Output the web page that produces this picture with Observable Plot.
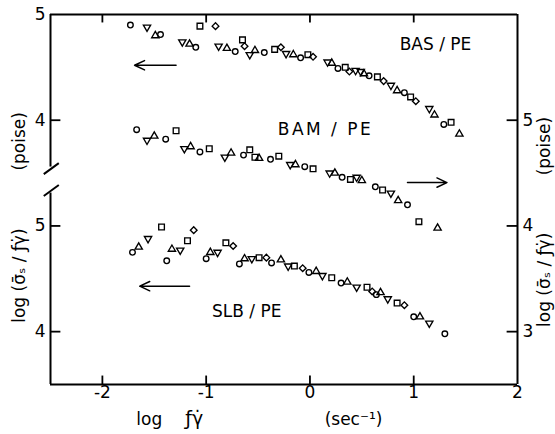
<!DOCTYPE html>
<html><head><meta charset="utf-8">
<script src="https://cdn.jsdelivr.net/npm/d3@7"></script>
<script src="https://cdn.jsdelivr.net/npm/@observablehq/plot@0.6"></script>
<style>body{margin:0;background:#fff;}</style>
</head><body><div id="chart"></div>
<script>
// ---- data ----
// x: log f·γ̇ (sec^-1); symbol codes: o circle, ^ triangle up, v triangle down, s square, d diamond
// BAS/PE : left upper axis (log poise)
const basX = [-1.73,-1.57,-1.49,-1.44,-1.23,-1.16,-1.10,-1.06,-0.91,-0.88,-0.80,-0.72,-0.65,-0.63,-0.58,-0.53,-0.44,-0.34,-0.28,-0.23,-0.16,-0.09,-0.02,0.03,0.17,0.21,0.27,0.34,0.38,0.44,0.49,0.52,0.57,0.65,0.71,0.78,0.84,0.91,0.97,1.02,1.15,1.20,1.29,1.36,1.44];
const basY = [4.90,4.88,4.80,4.81,4.74,4.72,4.69,4.89,4.89,4.70,4.68,4.65,4.76,4.70,4.62,4.66,4.64,4.67,4.69,4.63,4.62,4.59,4.62,4.60,4.55,4.54,4.49,4.50,4.46,4.47,4.46,4.44,4.42,4.41,4.37,4.33,4.28,4.26,4.22,4.18,4.11,4.05,3.96,3.98,3.87];
const basS = "o v ^ o v ^ o s d v ^ o s d v ^ o s d v ^ o s d v ^ o s d v v ^ o s d v ^ o s d v ^ o s ^".split(" ");
// BAM/PE : right axis (log poise)
const bamX = [-1.67,-1.57,-1.50,-1.39,-1.29,-1.21,-1.15,-1.06,-0.97,-0.82,-0.76,-0.64,-0.58,-0.53,-0.49,-0.38,-0.30,-0.19,-0.14,-0.05,0.03,0.19,0.24,0.31,0.39,0.45,0.50,0.63,0.70,0.78,0.85,0.94,1.05,1.23];
const bamY = [4.91,4.81,4.85,4.82,4.90,4.73,4.75,4.70,4.73,4.65,4.69,4.67,4.72,4.65,4.64,4.63,4.66,4.58,4.58,4.56,4.54,4.50,4.50,4.46,4.44,4.46,4.43,4.37,4.34,4.31,4.24,4.20,4.04,3.98];
const bamS = "o v ^ o s v ^ o s v ^ o s s ^ o s v ^ o s v ^ o s v ^ o s v ^ o s ^".split(" ");
// SLB/PE : left lower axis (log poise)
const slbX = [-1.71,-1.65,-1.56,-1.43,-1.38,-1.33,-1.25,-1.18,-1.12,-1.00,-0.96,-0.89,-0.81,-0.74,-0.68,-0.63,-0.56,-0.49,-0.42,-0.37,-0.28,-0.21,-0.15,-0.07,-0.01,0.06,0.12,0.21,0.30,0.36,0.45,0.55,0.60,0.64,0.68,0.75,0.84,0.91,1.00,1.06,1.15,1.30];
const slbY = [4.75,4.80,4.88,4.99,4.67,4.78,4.77,4.86,4.96,4.69,4.75,4.75,4.84,4.81,4.64,4.69,4.69,4.70,4.70,4.65,4.68,4.62,4.62,4.60,4.56,4.57,4.53,4.51,4.46,4.47,4.42,4.42,4.38,4.35,4.37,4.31,4.27,4.25,4.14,4.14,4.08,3.98];
const slbS = "o ^ v s o ^ v s d o ^ v s d o ^ v s d o ^ v s d o ^ v s o ^ v s d o ^ v s d o ^ v o".split(" ");

// tick values / labels
const xTicks = [-2, -1, 0, 1, 2];
const xInnerTicks = [-2, -1, 0, 1];
const leftTickVals = [5, 4, 3, 2];
const leftTickLabels = ["5", "4", "5", "4"];
const rightTickVals = [4, 3, 2];
const rightTickLabels = ["5", "4", "3"];

// series labels and arrows (in each series' own units)
const seriesNames = ["BAS / PE", "BAM / PE", "SLB / PE"];
const labelX = [1.21, 0.15, -0.61];
const labelY = [4.72, 4.91, 4.19];
const arrowX1 = [-1.29, 0.94, -1.16];
const arrowX2 = [-1.69, 1.32, -1.64];
const arrowY = [4.52, 4.41, 4.43];

// offsets mapping each axis onto the shared plotting scale
const offsets = [0, -1, -2];

const rows = (xs, ys, ss, off) => xs.map((x, i) => ({x, v: ys[i] + off, s: ss[i]}));
const pts = [
  ...rows(basX, basY, basS, offsets[0]),
  ...rows(bamX, bamY, bamS, offsets[1]),
  ...rows(slbX, slbY, slbS, offsets[2])
];

const s3 = Math.sqrt(3);
const triDown = {draw(ctx, size) {
  const y = -Math.sqrt(size / (s3 * 3));
  ctx.moveTo(0, -y * 2);
  ctx.lineTo(s3 * y, y);
  ctx.lineTo(-s3 * y, y);
  ctx.closePath();
}};
const symMap = {o: ["circle", 2.8], "^": ["triangle", 2.7], v: [triDown, 2.7], s: ["square", 3.2], d: ["diamond2", 3.0]};

const dotMarks = Object.keys(symMap).map(k => Plot.dot(pts.filter(d => d.s === k), {
  x: "x", y: "v", symbol: symMap[k][0], r: symMap[k][1],
  stroke: "black", strokeWidth: 1.35, fill: "none"
}));

const labels = seriesNames.map((t, i) => ({t, x: labelX[i], v: labelY[i] + offsets[i]}));
const arrows = arrowX1.map((x1, i) => ({x1, x2: arrowX2[i], v: arrowY[i] + offsets[i]}));

const xMin = -2.5, xMax = 2, yMin = 1.5, yMax = 5;
const tickLenV = 0.08, tickLenX = 0.1;
const font = "DejaVu Sans";

const chart = Plot.plot({
  width: 555, height: 434,
  marginLeft: 50, marginRight: 38, marginTop: 14, marginBottom: 50,
  style: {background: "white", color: "black", fontFamily: font},
  x: {domain: [xMin, xMax], axis: null},
  y: {domain: [yMin, yMax], axis: null},
  marks: [
    // frame
    Plot.ruleY([yMax, yMin], {x1: xMin, x2: xMax, strokeWidth: 2}),
    Plot.ruleX([xMax], {y1: yMin, y2: yMax, strokeWidth: 2}),
    // broken left axis
    Plot.ruleX([xMin], {y1: yMax, y2: 3.557, strokeWidth: 2}),
    Plot.ruleX([xMin], {y1: 3.311, y2: yMin, strokeWidth: 2}),
    Plot.link([{a: 3.49, b: 3.594}, {a: 3.283, b: 3.387}], {x1: -2.565, x2: -2.42, y1: "a", y2: "b", strokeWidth: 2}),
    // inward ticks
    Plot.ruleX(xInnerTicks, {x: d => d, y1: yMax, y2: yMax - tickLenV, strokeWidth: 1.8}),
    Plot.ruleX(xInnerTicks, {x: d => d, y1: yMin, y2: yMin + tickLenV, strokeWidth: 1.8}),
    Plot.ruleY(leftTickVals.slice(1), {y: d => d, x1: xMin, x2: xMin + tickLenX, strokeWidth: 1.8}),
    Plot.ruleY(rightTickVals, {y: d => d, x1: xMax - tickLenX, x2: xMax, strokeWidth: 1.8}),
    // tick labels
    Plot.axisX(xTicks, {anchor: "bottom", tickSize: 0, tickPadding: 1, fontSize: 17, label: null, tickFormat: d => String(d)}),
    Plot.axisY(leftTickVals, {anchor: "left", tickSize: 0, tickPadding: 5, fontSize: 17, label: null, tickFormat: d => leftTickLabels[leftTickVals.indexOf(d)]}),
    Plot.axisY(rightTickVals, {anchor: "right", tickSize: 0, tickPadding: 5, fontSize: 17, label: null, tickFormat: d => rightTickLabels[rightTickVals.indexOf(d)]}),
    // axis titles
    Plot.text(["log"], {x: -1.548, y: 1.17, text: d => d, fontSize: 17}),
    Plot.text(["ƒγ̇"], {x: -1.115, y: 1.17, text: d => d, fontSize: 19}),
    Plot.text(["(sec⁻¹)"], {x: 0.42, y: 1.17, text: d => d, fontSize: 17}),
    Plot.text(["(poise)", "log (σ̄ₛ / ƒγ̇)"], {x: -2.80, y: (d, i) => [3.80, 2.53][i], text: d => d, rotate: -90, fontSize: 17}),
    Plot.text(["(poise)", "log (σ̄ₛ / ƒγ̇)"], {x: 2.26, y: (d, i) => [3.755, 2.49][i], text: d => d, rotate: -90, fontSize: 17}),
    // series labels and arrows
    Plot.text(labels, {x: "x", y: "v", text: "t", fontSize: 17}),
    Plot.arrow(arrows, {x1: "x1", x2: "x2", y1: "v", y2: "v", headLength: 11, headAngle: 50, strokeWidth: 1.5}),
    // data
    ...dotMarks
  ]
});

chart.querySelectorAll("text").forEach(t => {
  if (t.textContent === "BAM / PE") t.setAttribute("letter-spacing", "2.5");
});
document.getElementById("chart").appendChild(chart);
</script></body></html>
